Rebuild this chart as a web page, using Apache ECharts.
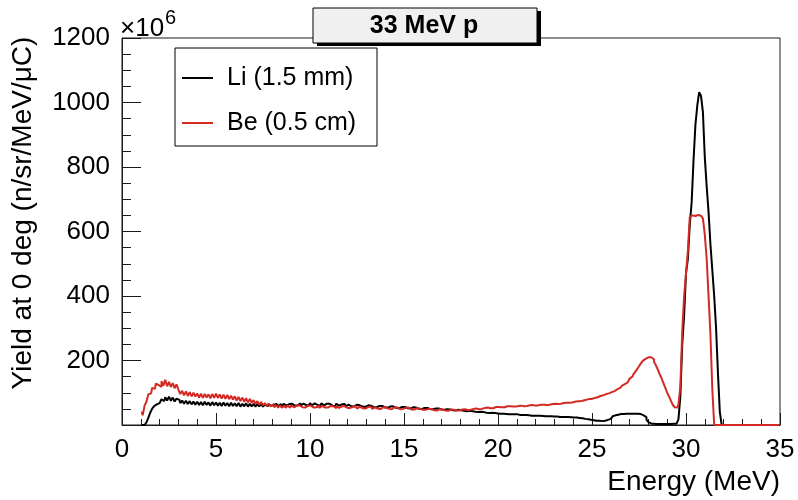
<!DOCTYPE html>
<html>
<head>
<meta charset="utf-8">
<title>33 MeV p neutron yield</title>
<script src="https://cdn.jsdelivr.net/npm/echarts@6/dist/echarts.min.js"></script>
<style>
  html, body { margin: 0; padding: 0; background: #fff; }
  #chart { width: 798px; height: 500px; }
</style>
</head>
<body>
<div id="chart"></div>
<script>
// Histogram binning (MeV): 0.1 MeV bins starting at 1.0 MeV
const binLow = 1.0;
const binWidth = 0.1;

// Yield at 0 deg, units of 1e6 n/sr/MeV/uC, one row per MeV
const liYield = [
  0,0,0,8,22,38,50,58,64,68,
  70,80,74,86,76,88,75,85,73,82,
  78,68,76,66,75,65,74,64,73,63,
  72,62,71,61,72,62,70,60,71,61,
  70,60,69,59,70,60,68,58,69,59,
  67,58,68,57,66,58,67,57,66,58,
  66,57,65,58,66,57,64,58,65,59,
  65,58,66,59,65,58,66,60,65,59,
  66,60,65,61,67,60,66,62,67,61,
  68,61,67,62,68,60,67,61,66,62,
  66,60,65,59,66,60,64,59,65,58,
  63,58,62,57,63,57,61,57,62,56,
  61,56,60,55,60,55,59,54,59,54,
  58,54,58,53,57,53,57,52,56,52,
  56,52,55,51,55,51,54,50,54,50,
  53,50,53,49,52,49,51,48,51,48,
  50,47,49,47,48,46,48,45,47,45,
  46,44,45,43,44,42,43,41,42,40,
  41,39,40,38,39,37,38,36,37,36,
  36,35,35,34,34,33,34,33,33,32,
  33,31,32,31,31,30,30,29,30,29,
  29,28,29,28,28,27,27,27,27,26,
  26,26,25,26,25,25,24,25,24,24,
  23,23,22,22,21,20,19,18,17,16,
  15,14,13,13,12,12,13,14,16,19,
  23,27,30,32,33,34,34,35,35,35,
  34,35,35,34,35,34,33,30,24,16,
  9,5,4,3,3,3,2,3,3,2,
  3,3,3,4,4,6,18,90,250,340,
  470,515,620,690,820,930,990,1032,1020,970,
  830,740,660,560,480,400,300,160,40,0,
  0,0,0,0,0,0,0,0,0,0,
  0,0,0,0,0,0,0,0,0,0,
  0,0,0,0,0,0,0,0,0,0
];

const beYield = [
  42,30,60,72,95,98,115,112,128,124,
  118,136,122,140,120,134,118,130,114,126,
  110,96,106,92,104,90,102,89,100,88,
  98,85,97,84,96,85,95,83,96,84,
  97,84,95,82,94,81,93,80,91,79,
  89,76,87,74,85,72,83,70,81,69,
  77,66,74,63,71,61,68,59,66,58,
  63,55,62,54,61,54,60,53,60,54,
  61,55,60,54,61,55,59,54,60,55,
  60,54,59,55,60,53,59,54,60,54,
  59,53,58,52,59,53,58,52,58,53,
  58,53,57,52,58,51,57,52,57,51,
  56,51,57,50,55,51,56,49,55,50,
  55,50,54,49,55,49,54,49,54,50,
  53,49,54,48,53,48,52,48,51,47,
  51,47,50,46,50,46,50,45,49,45,
  48,45,47,44,48,45,47,45,48,45,
  48,46,49,46,50,47,50,48,51,49,
  52,50,53,51,54,52,54,52,56,54,
  56,55,57,55,58,56,58,57,59,57,
  59,58,60,58,61,59,61,59,62,60,
  62,61,63,61,63,62,64,63,65,64,
  66,65,67,66,68,67,69,69,71,70,
  72,72,74,74,76,76,78,78,81,81,
  83,84,86,88,90,92,94,96,98,100,
  102,105,108,111,115,118,122,127,132,138,
  144,150,157,165,173,182,191,199,205,210,
  212,210,204,195,185,172,158,145,130,115,
  100,88,75,62,55,54,65,120,290,400,
  470,540,645,650,648,650,651,649,650,640,
  590,515,400,280,110,0,0,0,0,0,
  0,0,0,0,0,0,0,0,0,0,
  0,0,0,0,0,0,0,0,0,0,
  0,0,0,0,0,0,0,0,0,0
];

const seriesNames = ['Li (1.5 mm)', 'Be (0.5 cm)'];
const seriesColors = ['#000000', '#d42a24'];
const xTicks = { min: 0, max: 35, step: 5 };
const yTicks = { min: 0, max: 1200, step: 200 };

function toPoints(values) {
  return values.map((v, i) => [+(binLow + (i + 0.5) * binWidth).toFixed(3), v]);
}

const FONT = 'Liberation Sans, Arial, Helvetica, sans-serif';
const axisColor = '#1a1a1a';

const chart = echarts.init(document.getElementById('chart'), null, { renderer: 'canvas' });

chart.setOption({
  animation: false,
  backgroundColor: '#ffffff',
  grid: {
    left: 122, right: 18, top: 38, bottom: 75,
    show: true, borderColor: axisColor, borderWidth: 1, backgroundColor: 'transparent'
  },
  xAxis: {
    type: 'value',
    min: xTicks.min, max: xTicks.max, interval: xTicks.step,
    axisLine: { show: true, onZero: false, lineStyle: { color: axisColor, width: 1 } },
    axisTick: { show: true, inside: true, length: 12, lineStyle: { color: axisColor } },
    minorTick: { show: true, splitNumber: 5, length: 6, lineStyle: { color: axisColor } },
    splitLine: { show: false },
    axisLabel: { color: '#000', fontFamily: FONT, fontSize: 26, margin: 12 }
  },
  yAxis: {
    type: 'value',
    min: yTicks.min, max: yTicks.max, interval: yTicks.step,
    axisLine: { show: true, lineStyle: { color: axisColor, width: 1 } },
    axisTick: { show: true, inside: true, length: 19, lineStyle: { color: axisColor } },
    minorTick: { show: true, splitNumber: 4, length: 9, lineStyle: { color: axisColor } },
    splitLine: { show: false },
    axisLabel: {
      color: '#000', fontFamily: FONT, fontSize: 26, margin: 12,
      formatter: v => (v === 0 ? '' : String(v))
    }
  },
  series: [
    {
      name: seriesNames[0], type: 'line', step: 'middle', showSymbol: false, symbol: 'none',
      data: toPoints(liYield),
      lineStyle: { color: seriesColors[0], width: 2 }, itemStyle: { color: seriesColors[0] }
    },
    {
      name: seriesNames[1], type: 'line', step: 'middle', showSymbol: false, symbol: 'none',
      data: toPoints(beYield),
      lineStyle: { color: seriesColors[1], width: 2 }, itemStyle: { color: seriesColors[1] }
    }
  ],
  graphic: [
    // title box with drop shadow
    { type: 'rect', shape: { x: 317, y: 11, width: 224, height: 35 }, style: { fill: '#000' }, z: 10 },
    { type: 'rect', shape: { x: 313, y: 8, width: 224, height: 35 }, style: { fill: '#f0f0f0', stroke: '#000', lineWidth: 1 }, z: 11 },
    { type: 'text', x: 424, y: 26, z: 12,
      style: { text: '33 MeV p', font: 'bold 25px ' + FONT, fill: '#000', align: 'center', verticalAlign: 'middle' } },
    // exponent of the y axis
    { type: 'text', x: 120, y: 29, z: 12,
      style: { text: '×10', font: '26px ' + FONT, fill: '#000', align: 'left', verticalAlign: 'middle' } },
    { type: 'text', x: 165, y: 18, z: 12,
      style: { text: '6', font: '20px ' + FONT, fill: '#000', align: 'left', verticalAlign: 'middle' } },
    // axis titles
    { type: 'text', x: 23, y: 213, rotation: Math.PI / 2, z: 12,
      style: { text: 'Yield at 0 deg (n/sr/MeV/μC)', font: '28px ' + FONT, fill: '#000', align: 'center', verticalAlign: 'middle' } },
    { type: 'text', x: 780, y: 482, z: 12,
      style: { text: 'Energy (MeV)', font: '28px ' + FONT, fill: '#000', align: 'right', verticalAlign: 'middle' } },
    // legend
    { type: 'rect', shape: { x: 175, y: 48, width: 202, height: 98 }, style: { fill: '#fff', stroke: '#000', lineWidth: 1 }, z: 20 },
    { type: 'line', shape: { x1: 182, y1: 78, x2: 213, y2: 78 }, style: { stroke: seriesColors[0], lineWidth: 2 }, z: 21 },
    { type: 'text', x: 227, y: 78, z: 21,
      style: { text: seriesNames[0], font: '25px ' + FONT, fill: '#000', align: 'left', verticalAlign: 'middle' } },
    { type: 'line', shape: { x1: 182, y1: 123, x2: 213, y2: 123 }, style: { stroke: seriesColors[1], lineWidth: 2 }, z: 21 },
    { type: 'text', x: 227, y: 123, z: 21,
      style: { text: seriesNames[1], font: '25px ' + FONT, fill: '#000', align: 'left', verticalAlign: 'middle' } }
  ]
});
</script>
</body>
</html>
